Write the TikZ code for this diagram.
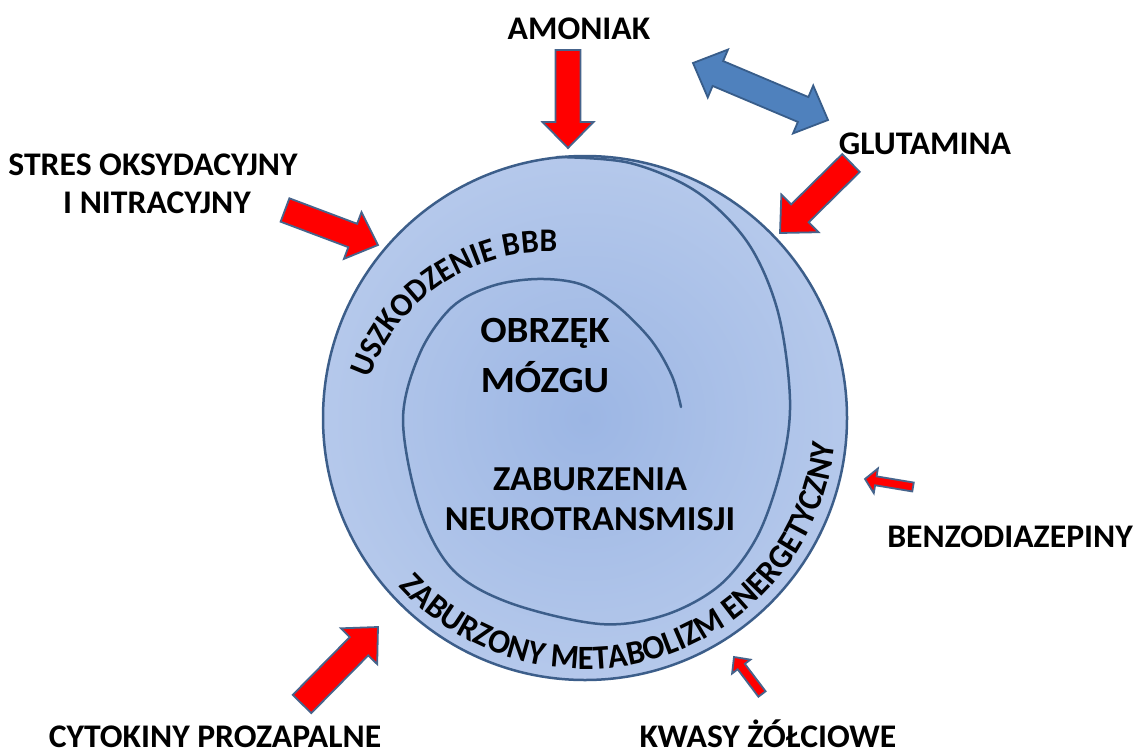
\documentclass[tikz,border=0pt]{standalone}
\usepackage{fontspec}
\setmainfont{Carlito}
\newfontfamily\labfont{Carlito}[FakeStretch=1.02]
\newfontfamily\midfont{Carlito}[FakeStretch=1.035]
\newfontfamily\bigfont{Carlito}[FakeStretch=1.055]
\newfontfamily\arcfont{Carlito}[FakeStretch=0.95]
\usetikzlibrary{decorations.text}
\definecolor{lineblue}{RGB}{60,94,138}
\definecolor{cin}{RGB}{156,182,228}
\definecolor{cout}{RGB}{206,219,242}
\definecolor{arrred}{RGB}{255,0,0}
\definecolor{arrredline}{RGB}{70,100,140}
\definecolor{arrblue}{RGB}{79,129,189}
\definecolor{arrblueline}{RGB}{56,93,138}
\pgfdeclareradialshading{bubble}{\pgfpoint{0bp}{0bp}}{color(0bp)=(cin); color(50bp)=(cout); color(55bp)=(cout)}
% block arrow: style, tail x,y, tip x,y, shaft width, head width, head length
\newcommand\blockarrow[8]{%
  \pgfmathsetmacro\bdx{#4-#2}%
  \pgfmathsetmacro\bdy{#5-#3}%
  \pgfmathsetmacro\blen{veclen(\bdx,\bdy)}%
  \pgfmathsetmacro\bang{atan2(\bdy,\bdx)}%
  \pgfmathsetmacro\bsh{#6/2}%
  \pgfmathsetmacro\bhw{#7/2}%
  \pgfmathsetmacro\bbase{\blen-#8}%
  \draw[#1, shift={(#2,#3)}, rotate=-\bang] (0,-\bsh) -- (\bbase,-\bsh) -- (\bbase,-\bhw) -- (\blen,0) -- (\bbase,\bhw) -- (\bbase,\bsh) -- (0,\bsh) -- cycle;%
}
% double block arrow: style, tip1 x,y, tip2 x,y, shaft width, head width, head length
\newcommand\dblockarrow[8]{%
  \pgfmathsetmacro\bdx{#4-#2}%
  \pgfmathsetmacro\bdy{#5-#3}%
  \pgfmathsetmacro\blen{veclen(\bdx,\bdy)}%
  \pgfmathsetmacro\bang{atan2(\bdy,\bdx)}%
  \pgfmathsetmacro\bsh{#6/2}%
  \pgfmathsetmacro\bhw{#7/2}%
  \pgfmathsetmacro\bbase{\blen-#8}%
  \draw[#1, shift={(#2,#3)}, rotate=-\bang] (0,0) -- (#8,-\bhw) -- (#8,-\bsh) -- (\bbase,-\bsh) -- (\bbase,-\bhw) -- (\blen,0) -- (\bbase,\bhw) -- (\bbase,\bsh) -- (#8,\bsh) -- (#8,\bhw) -- cycle;%
}
\tikzset{
  lab/.style={font=\labfont\fontsize{33}{38}\selectfont\bfseries, anchor=base, inner sep=0pt, text=black},
  mid/.style={font=\midfont\fontsize{35}{40}\selectfont\bfseries, anchor=base, inner sep=0pt, text=black},
  big/.style={font=\bigfont\fontsize{37}{40}\selectfont\bfseries, anchor=base, inner sep=0pt, text=black},
  ring/.style={draw=lineblue, line width=2.5pt},
  redarrow/.style={fill=arrred, draw=arrredline, line width=1.8pt, line join=miter},
  bluearrow/.style={fill=arrblue, draw=arrblueline, line width=1.8pt, line join=miter},
}
\begin{document}
\begin{tikzpicture}[x=1pt,y=-1pt]
\useasboundingbox (0,0) rectangle (1137,749);
\fill[white] (0,0) rectangle (1137,749);
% outer circle
\coordinate (c) at (585,418);
\shade[shading=bubble] (c) circle[radius=262];
\draw[ring] (c) circle[radius=262];
% spiral
\draw[ring, line cap=round] plot[smooth, tension=0.55] coordinates {(557,157) (630,163) (697,192) (748,243) (778,312) (790,400) (782,465) (758,535) (720,585) (665,615) (600,624) (510,603) (453,570) (420,510) (403,420) (420,353) (452,307) (492,286) (537,279) (580,284) (616,305) (651,340) (672,376) (681,407)};
% curved texts
\path[decorate, decoration={text along path, text align=center, text={|\arcfont\fontsize{33}{33}\selectfont\bfseries|USZKODZENIE BBB}}] (548,441) ++(188:189) arc[start angle=188, end angle=284, radius=189];
\path[decorate, decoration={text along path, text align=center, text={|\arcfont\fontsize{34}{34}\selectfont\bfseries|ZABURZONY METABOLIZM ENERGETYCZNY}}] (c) ++(154:251) arc[start angle=154, end angle=-10, radius=251];
% central texts
\node[big] (obrzek) at (545,342) {OBRZĘK};
\node[big] (mozgu) at (545,392) {MÓZGU};
\node[mid] (zaburzenia) at (590,490) {ZABURZENIA};
\node[mid] (neuro) at (590,530) {NEUROTRANSMISJI};
% labels
\node[lab] (amoniak) at (579,40) {AMONIAK};
\node[lab] (glutamina) at (925,154) {GLUTAMINA};
\node[lab] (stres) at (153,175) {STRES OKSYDACYJNY};
\node[lab] (nitra) at (157,213) {I NITRACYJNY};
\node[lab] (benzo) at (1010,547) {BENZODIAZEPINY};
\node[lab] (cyto) at (215,747) {CYTOKINY PROZAPALNE};
\node[lab] (kwasy) at (768,747) {KWASY ŻÓŁCIOWE};
% arrows
\blockarrow{redarrow}{568}{50}{568}{148}{25}{51}{26}
\dblockarrow{bluearrow}{693}{63}{828}{120}{27}{52}{27}
\blockarrow{redarrow}{851}{163}{780}{233}{25}{53}{28}
\blockarrow{redarrow}{285}{210}{378}{245}{25}{50}{27}
\blockarrow{redarrow}{302}{704}{378}{627}{26}{51}{27}
\blockarrow{redarrow}{913}{487}{865}{479}{9}{25}{11}
\blockarrow{redarrow}{762}{694}{734}{657}{9}{23}{12}
\end{tikzpicture}
\end{document}
